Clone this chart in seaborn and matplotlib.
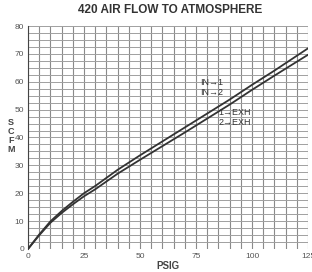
import numpy as np
import pandas as pd
import seaborn as sns
import matplotlib.pyplot as plt

# values
psig = [0, 5, 10, 15, 20, 25, 30, 40, 50, 60, 70, 80, 90, 100, 110, 125]
scfm_in = [0, 5.2, 9.9, 13.6, 16.9, 20.0, 22.6, 28.4, 33.6, 38.6, 43.6, 48.6, 53.6, 58.9, 64.0, 72.0]
scfm_exh = [0, 4.9, 9.4, 12.9, 16.0, 18.9, 21.4, 27.0, 32.0, 36.9, 41.8, 46.8, 51.8, 57.1, 62.2, 69.7]

xticks = [0, 25, 50, 75, 100, 125]
yticks = [0, 10, 20, 30, 40, 50, 60, 70, 80]

df = pd.concat([
    pd.DataFrame({"PSIG": psig, "SCFM": scfm_in, "path": "IN"}),
    pd.DataFrame({"PSIG": psig, "SCFM": scfm_exh, "path": "EXH"}),
])

sns.set_style("white")
plt.rcParams["font.family"] = ["Liberation Sans", "DejaVu Sans"]

fig = plt.figure(figsize=(3.12, 2.72), dpi=100)
ax = fig.add_axes([0.09, 0.085, 0.897, 0.819])

# graph-paper grid
for gx in np.arange(0, 126, 5):
    ax.axvline(gx, color="#8a8a8a", lw=0.8, zorder=0)
for gy in np.arange(0, 81, 2.5):
    ax.axhline(gy, color="#a0a0a0", lw=0.7, zorder=0)

sns.lineplot(data=df, x="PSIG", y="SCFM", hue="path", palette=["#333333", "#333333"],
             linewidth=1.3, legend=False, ax=ax, zorder=3)

ax.set_xlim(0, 125)
ax.set_ylim(0, 80)
ax.set_xticks(xticks)
ax.set_yticks(yticks)
ax.tick_params(axis="both", labelsize=6, colors="#555555", length=2, pad=1)
for s in ax.spines.values():
    s.set_visible(False)
ax.spines["left"].set_visible(True)
ax.spines["left"].set_color("#444444")

ax.set_xlabel("PSIG", fontsize=7, fontweight="bold", color="#444444", labelpad=1)
ax.set_ylabel("")
# stacked upright letters as in the reference
fig.text(0.036, 0.5, "S\nC\nF\nM", fontsize=6.5, fontweight="bold", color="#444444",
         ha="center", va="center", linespacing=1.0)

ax.text(77, 59.8, "IN\u21921", fontsize=6.5, color="#333333", va="center")
ax.text(77, 56.2, "IN\u21922", fontsize=6.5, color="#333333", va="center")
ax.text(85, 48.9, "1\u2192EXH", fontsize=6.5, color="#333333", va="center")
ax.text(85, 45.3, "2\u2192EXH", fontsize=6.5, color="#333333", va="center")

fig.suptitle("420 AIR FLOW TO ATMOSPHERE", x=0.545, y=0.985, fontsize=8.5,
             fontweight="bold", color="#333333")

fig.savefig("out.png", dpi=100)
